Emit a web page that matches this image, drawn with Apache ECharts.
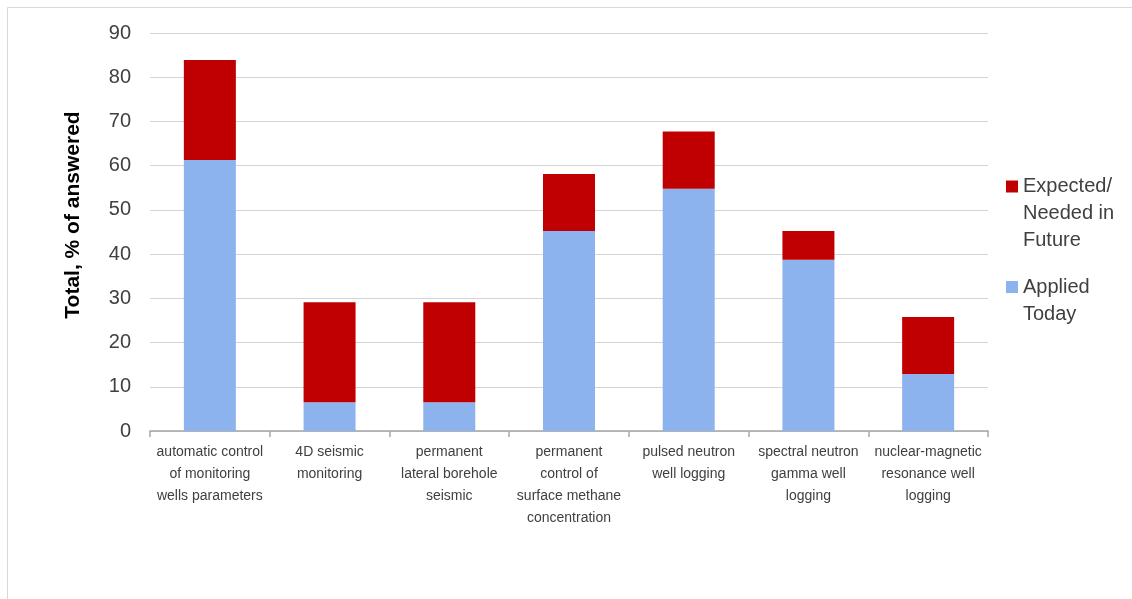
<!DOCTYPE html>
<html>
<head>
<meta charset="utf-8">
<script src="https://cdn.jsdelivr.net/npm/echarts@6/dist/echarts.min.js"></script>
<style>
  html, body { margin: 0; padding: 0; background: #fff; }
  #chart { width: 1132px; height: 599px; }
</style>
</head>
<body>
<div id="chart"></div>
<script>
const categories = [
  'automatic control\nof monitoring\nwells parameters',
  '4D seismic\nmonitoring',
  'permanent\nlateral borehole\nseismic',
  'permanent\ncontrol of\nsurface methane\nconcentration',
  'pulsed neutron\nwell logging',
  'spectral neutron\ngamma well\nlogging',
  'nuclear-magnetic\nresonance well\nlogging'
];
const appliedToday = [61.3, 6.5, 6.5, 45.2, 54.8, 38.7, 12.9];
const expectedFuture = [22.6, 22.6, 22.6, 12.9, 12.9, 6.5, 12.9];
const seriesNames = ['Applied\nToday', 'Expected/\nNeeded in\nFuture'];
const yAxisTitle = 'Total, % of answered';
const yMin = 0, yMax = 90, yInterval = 10;

const font = '"Liberation Sans", Arial, sans-serif';
const chart = echarts.init(document.getElementById('chart'), null, { renderer: 'canvas' });

// Put the legend marker beside the first text line: pad the text block above
// with blank lines so that its middle falls on the first line.
function alignFirstLine(name) {
  const n = name.split('\n').length;
  return '\n'.repeat(n - 1) + name;
}

chart.setOption({
  animation: false,
  backgroundColor: '#ffffff',
  textStyle: { fontFamily: font },
  grid: { left: 150, right: 144, top: 33, bottom: 168, containLabel: false },
  graphic: [
    { type: 'rect', silent: true, shape: { x: 7.5, y: 7.5, width: 2000, height: 2000 },
      style: { fill: 'none', stroke: '#d9d9d9', lineWidth: 1 } },
    { type: 'text', x: 73, y: 215, rotation: Math.PI / 2,
      style: { text: yAxisTitle, font: 'bold 21px ' + font, fill: '#000000',
               align: 'center', verticalAlign: 'middle' } }
  ],
  legend: [
    { data: [seriesNames[1]], orient: 'vertical', left: 1006, top: 119, padding: 0,
      itemWidth: 12, itemHeight: 12, icon: 'rect', formatter: alignFirstLine,
      textStyle: { fontSize: 20, lineHeight: 27, color: '#404040', fontFamily: font } },
    { data: [seriesNames[0]], orient: 'vertical', left: 1006, top: 246.5, padding: 0,
      itemWidth: 12, itemHeight: 12, icon: 'rect', formatter: alignFirstLine,
      textStyle: { fontSize: 20, lineHeight: 27, color: '#404040', fontFamily: font } }
  ],
  xAxis: {
    type: 'category',
    data: categories,
    axisLine: { lineStyle: { color: '#a6a6a6', width: 1.5 } },
    axisTick: { show: true, length: 6, lineStyle: { color: '#a6a6a6', width: 1.5 } },
    axisLabel: { interval: 0, fontSize: 14, lineHeight: 22, color: '#404040', margin: 10, fontFamily: font }
  },
  yAxis: {
    type: 'value',
    min: yMin, max: yMax, interval: yInterval,
    axisLine: { show: false },
    axisTick: { show: false },
    axisLabel: { fontSize: 20, color: '#404040', margin: 19, fontFamily: font },
    splitLine: { lineStyle: { color: '#d4d4d4', width: 1.2 } }
  },
  series: [
    { name: seriesNames[0], type: 'bar', stack: 'total', data: appliedToday, barWidth: 52,
      itemStyle: { color: '#8db3ef' } },
    { name: seriesNames[1], type: 'bar', stack: 'total', data: expectedFuture, barWidth: 52,
      itemStyle: { color: '#c00000' } }
  ]
});
</script>
</body>
</html>
